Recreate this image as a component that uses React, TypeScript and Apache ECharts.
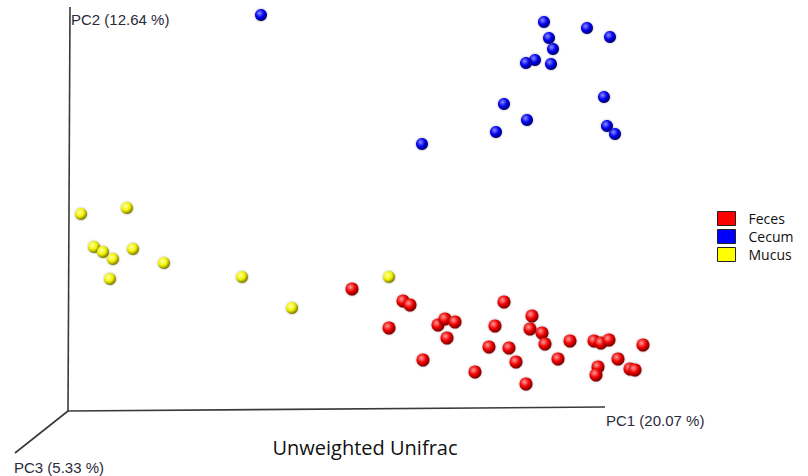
import React, { useEffect, useRef } from "react";
import * as echarts from "echarts";

// Projected PCoA coordinates (screen-plane units)
const feces: number[][] = [
  [284, 122], [335, 110], [342, 106], [321, 83], [370, 86], [377, 92], [387, 89],
  [379, 73], [355, 51], [436, 109], [427, 85], [464, 95], [462, 82], [474, 78],
  [477, 67], [421, 64], [441, 63], [448, 49], [407, 39], [458, 27], [490, 52],
  [502, 70], [526, 70], [533, 68], [541, 71], [575, 66], [550, 52], [530, 44],
  [528, 36], [562, 42], [567, 41],
];
const cecum: number[][] = [
  [476, 389], [519, 383], [481, 373], [542, 374], [485, 362], [467, 351],
  [458, 348], [483, 347], [436, 307], [536, 314], [459, 291], [428, 279],
  [539, 285], [547, 277], [354, 267], [193, 396],
];
const mucus: number[][] = [
  [13, 197], [59, 203], [26, 164], [35, 159], [45, 152], [65, 162], [96, 148],
  [42, 132], [174, 134], [224, 103], [321, 134],
];
const groupNames = ["Feces", "Cecum", "Mucus"];
const groupColors = [
  ["#ff9a9a", "#f00000", "#7a0000"],
  ["#8c8cff", "#0000f0", "#00006e"],
  ["#ffffb0", "#f2f200", "#7a7a00"],
];
const legendColors = ["#ff0000", "#0000ff", "#ffff00"];
const axisLabels = ["PC1 (20.07 %)", "PC2 (12.64 %)", "PC3 (5.33 %)"];
const chartTitle = "Unweighted Unifrac";

export default function App() {
  const ref = useRef<HTMLDivElement>(null);
  useEffect(() => {
    if (!ref.current) return;
    const chart = echarts.init(ref.current, undefined, { renderer: "svg" });
    const sphere = (c: string[]) =>
      new echarts.graphic.RadialGradient(0.38, 0.35, 0.65, [
        { offset: 0, color: c[0] },
        { offset: 0.55, color: c[1] },
        { offset: 1, color: c[2] },
      ]);
    const datasets = [feces, cecum, mucus];
    const sizes = [13, 12, 12];
    const axisLine = { stroke: "#3a3a3a", lineWidth: 1.6 };
    const labelStyle = (text: string, x: number, y: number) => ({
      type: "text",
      x,
      y,
      style: {
        text,
        fill: "#2a2a3a",
        font: '15px "Liberation Sans", Arial, sans-serif',
        textVerticalAlign: "middle",
      },
    });
    chart.setOption({
      animation: false,
      backgroundColor: "#ffffff",
      grid: { left: 68, top: 7, width: 537, height: 404 },
      xAxis: {
        type: "value",
        min: 0,
        max: 537,
        show: false,
      },
      yAxis: {
        type: "value",
        min: 0,
        max: 404,
        show: false,
      },
      legend: {
        orient: "vertical",
        left: 717,
        top: 211,
        padding: 0,
        itemWidth: 18,
        itemHeight: 14,
        itemGap: 3,
        icon: "rect",
        selectedMode: false,
        data: groupNames.map((n, i) => ({
          name: n,
          itemStyle: { color: legendColors[i], borderColor: "#222", borderWidth: 1 },
        })),
        textStyle: {
          fontFamily: '"Open Sans", sans-serif',
          fontSize: 14,
          lineHeight: 14,
          color: "#111111",
          padding: [0, 0, 0, 8],
        },
      },
      graphic: [
        { type: "line", shape: { x1: 70, y1: 7, x2: 68, y2: 411 }, style: axisLine, silent: true },
        { type: "line", shape: { x1: 68, y1: 411, x2: 605, y2: 407 }, style: axisLine, silent: true },
        { type: "line", shape: { x1: 68, y1: 411, x2: 15, y2: 453 }, style: axisLine, silent: true },
        labelStyle(axisLabels[1], 71, 19),
        labelStyle(axisLabels[0], 606, 420),
        labelStyle(axisLabels[2], 14, 467),
        {
          type: "text",
          x: 365,
          y: 447,
          style: {
            text: chartTitle,
            fill: "#111111",
            font: '20px "Open Sans", sans-serif',
            textAlign: "center",
            textVerticalAlign: "middle",
          },
        },
      ],
      series: datasets.map((d, i) => ({
        name: groupNames[i],
        type: "scatter",
        data: d,
        clip: false,
        symbol: "circle",
        symbolSize: sizes[i],
        itemStyle: {
          color: sphere(groupColors[i]),
          shadowColor: "rgba(0,0,0,0.35)",
          shadowBlur: 2,
          opacity: 1,
        },
      })),
    });
    return () => chart.dispose();
  }, []);
  return (
    <div
      ref={ref}
      style={{ position: "fixed", left: 0, top: 0, width: 808, height: 476 }}
    />
  );
}
